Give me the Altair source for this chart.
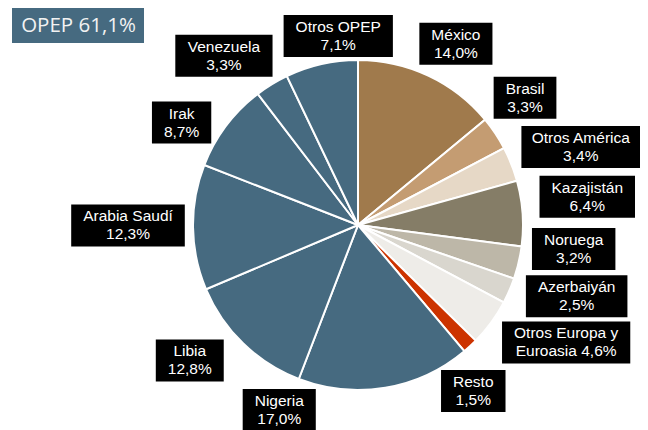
import math
import altair as alt
import pandas as pd

# ---- data ----
names = ["México", "Brasil", "Otros América", "Kazajistán", "Noruega", "Azerbaiyán",
         "Otros Europa y Euroasia", "Resto", "Nigeria", "Libia", "Arabia Saudí",
         "Irak", "Venezuela", "Otros OPEP"]
values = [14.0, 3.3, 3.4, 6.4, 3.2, 2.5, 4.6, 1.5, 17.0, 12.8, 12.3, 8.7, 3.3, 7.1]
label_texts = ["México\n14,0%", "Brasil\n3,3%", "Otros América\n3,4%", "Kazajistán\n6,4%",
               "Noruega\n3,2%", "Azerbaiyán\n2,5%", "Otros Europa y\nEuroasia 4,6%",
               "Resto\n1,5%", "Nigeria\n17,0%", "Libia\n12,8%", "Arabia Saudí\n12,3%",
               "Irak\n8,7%", "Venezuela\n3,3%", "Otros OPEP\n7,1%"]
title_text = "OPEP 61,1%"

# ---- styles / layout ----
OPEP = "#466A80"
colors = ["#A07A4C", "#C49C72", "#E6D8C6", "#857D67", "#BDB7A8", "#D9D6CE",
          "#EEECE8", "#CC3300", OPEP, OPEP, OPEP, OPEP, OPEP, OPEP]
angle_nudge = [3.2, -3.6, 2.4, -3.0, -6.9, -5.4, -6.8, 8.0, 32.6, 7.1, 0.7, -6.8, -6.9, 6.8]
label_dist = [206, 210, 236, 231, 217, 230, 239, 202, 201, 216, 230, 204, 216, 190]

W, H = 632, 422
CX, CY = 350, 217
R = 165
FS = 15.5
LH = 18
BOX_H = 42

# Arial / Liberation Sans advance widths (per 1000 em)
AW = {" ": 278, "%": 889, ",": 278, "A": 667, "B": 667, "E": 667, "I": 278, "K": 667,
      "L": 556, "M": 833, "N": 722, "O": 778, "P": 667, "R": 722, "S": 667, "V": 667,
      "a": 556, "b": 556, "c": 500, "d": 556, "e": 556, "g": 556, "i": 222, "j": 222,
      "k": 500, "l": 222, "n": 556, "o": 556, "p": 556, "r": 333, "s": 500, "t": 278,
      "u": 556, "x": 500, "y": 500, "z": 500, "á": 556, "é": 556, "í": 278}


def text_w(s):
    return sum(AW.get(c, 556) for c in s) * FS / 1000.0


total = sum(values)
rows = []
cum = 0.0
for i, (n, v) in enumerate(zip(names, values)):
    mid = (cum + v / 2) / total * 360.0
    cum += v
    a = math.radians(mid + angle_nudge[i])
    cx = label_dist[i] * math.sin(a)
    cy = label_dist[i] * math.cos(a)
    bw = max(text_w(line) for line in label_texts[i].split("\n")) + 24
    rows.append(dict(idx=i, name=n, value=v, label=label_texts[i],
                     cx=cx, cy=cy, x1=cx - bw / 2, x2=cx + bw / 2,
                     y1=cy - BOX_H / 2, y2=cy + BOX_H / 2))
df = pd.DataFrame(rows)

xs = alt.Scale(domain=[-CX, W - CX], nice=False, zero=False)
ys = alt.Scale(domain=[-(H - CY), CY], nice=False, zero=False)

base = alt.Chart(df)

pie = base.mark_arc(outerRadius=R, stroke="white", strokeWidth=2).encode(
    theta=alt.Theta("value:Q", stack=True),
    order=alt.Order("idx:Q"),
    color=alt.Color("name:N", scale=alt.Scale(domain=names, range=colors), legend=None),
    x=alt.datum(0, type="quantitative", scale=xs, axis=None),
    y=alt.datum(0, type="quantitative", scale=ys, axis=None),
)

boxes = base.mark_rect(color="black").encode(
    x=alt.X("x1:Q", scale=xs, axis=None), x2="x2:Q",
    y=alt.Y("y1:Q", scale=ys, axis=None), y2="y2:Q",
)

texts = base.mark_text(color="white", font="Liberation Sans", fontSize=FS,
                       lineHeight=LH, lineBreak="\n", align="center",
                       baseline="middle", dy=-LH / 2).encode(
    x=alt.X("cx:Q", scale=xs, axis=None),
    y=alt.Y("cy:Q", scale=ys, axis=None),
    text="label:N",
)

tdf = pd.DataFrame({"t": [title_text]})
tbox = alt.Chart(tdf).mark_rect(color=OPEP).encode(
    x=alt.value(4), x2=alt.value(136), y=alt.value(0), y2=alt.value(35))
ttext = alt.Chart(tdf).mark_text(color="#F2F2F2", font="Open Sans", fontSize=20.5,
                                 align="center", baseline="middle").encode(
    x=alt.value(70.5), y=alt.value(18), text="t:N")

chart = alt.layer(pie, boxes, texts, tbox, ttext).properties(
    width=W, height=H, autosize=alt.AutoSizeParams(type="none"), padding=0
).configure_view(stroke=None)

chart.save("out.html", embed_options={"renderer": "svg", "actions": False})
